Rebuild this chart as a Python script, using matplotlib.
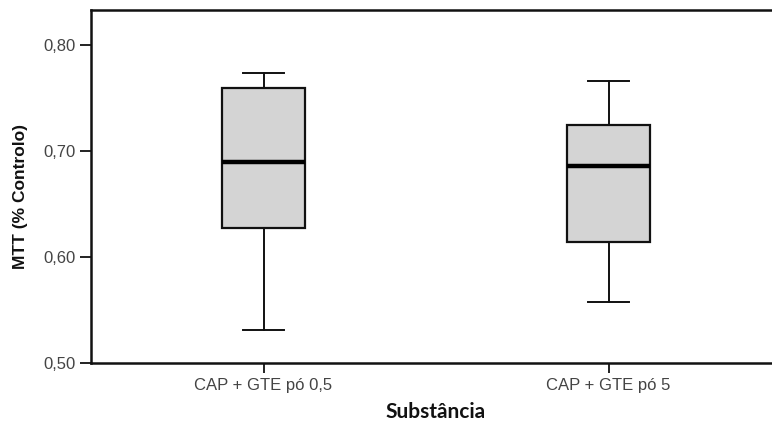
import matplotlib
matplotlib.use("Agg")
import matplotlib.pyplot as plt

plt.rcParams["font.family"] = ["Liberation Sans", "DejaVu Sans"]

# Five-number summaries per substance
categories = ["CAP + GTE pó 0,5", "CAP + GTE pó 5"]
whisker_low = [0.531, 0.558]
q1 = [0.6275, 0.614]
median = [0.690, 0.686]
q3 = [0.760, 0.725]
whisker_high = [0.774, 0.766]
y_ticks = [0.50, 0.60, 0.70, 0.80]
y_tick_labels = ["0,50", "0,60", "0,70", "0,80"]

W, H = 772, 421
fig = plt.figure(figsize=(W / 100, H / 100), dpi=100)
left_px, right_px, top_px, bottom_px = 91, 781, 10, 363
ax = fig.add_axes([left_px / W, 1 - bottom_px / H,
                   (right_px - left_px) / W, (bottom_px - top_px) / H])

stats = []
for i, name in enumerate(categories):
    stats.append(dict(label=name, whislo=whisker_low[i], q1=q1[i], med=median[i],
                      q3=q3[i], whishi=whisker_high[i], fliers=[]))

ax.bxp(stats, positions=range(len(categories)), widths=0.24, patch_artist=True,
       showfliers=False,
       boxprops=dict(facecolor="#d4d4d4", edgecolor="#111111", linewidth=1.6),
       medianprops=dict(color="black", linewidth=3.2, solid_capstyle="butt"),
       whiskerprops=dict(color="#111111", linewidth=1.4),
       capprops=dict(color="#111111", linewidth=1.4),
       capwidths=0.12)

ax.set_xlim(-0.5, 1.5)
ax.set_ylim(0.5, 0.8333)
ax.set_yticks(y_ticks)
ax.set_yticklabels(y_tick_labels)
ax.set_xticks(range(len(categories)))
ax.set_xticklabels(categories)

for s in ("left", "top", "bottom"):
    ax.spines[s].set_linewidth(1.8)
    ax.spines[s].set_color("#111111")
ax.spines["right"].set_visible(False)

ax.tick_params(axis="y", length=8, width=1.3, color="#111111", pad=3,
               labelsize=12, labelcolor="#444444")
ax.tick_params(axis="x", length=7, width=1.3, color="#111111", pad=4,
               labelsize=12, labelcolor="#444444")

fig.text(21 / W, 1 - 196.5 / H, "MTT (% Controlo)", rotation=90,
         ha="center", va="center", fontsize=12.5, fontweight="bold",
         color="#111111")
fig.text(435.5 / W, 1 - 411.5 / H, "Substância", ha="center", va="center",
         fontsize=15, fontweight="bold", family="Lato", color="#111111")

fig.savefig("out.png", dpi=100)
